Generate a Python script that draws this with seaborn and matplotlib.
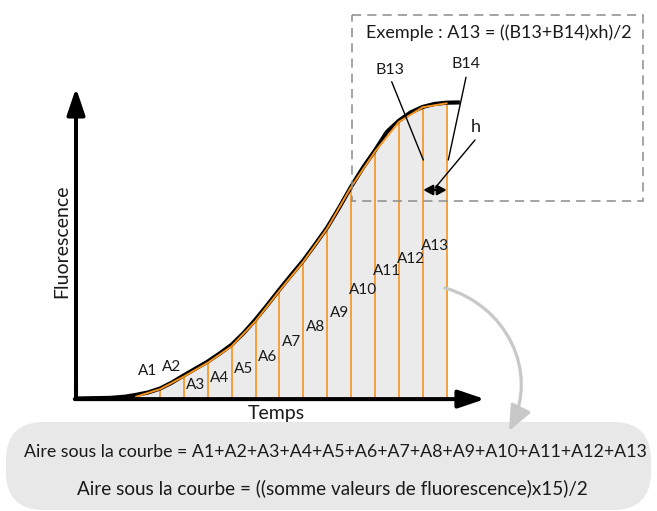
import numpy as np
import pandas as pd
import matplotlib
matplotlib.use("Agg")
import matplotlib.pyplot as plt
import seaborn as sns
from matplotlib.patches import FancyBboxPatch, FancyArrowPatch, Rectangle
from matplotlib.path import Path

# ---------------- data ----------------
# readings (time index, fluorescence) -> B1..B14
time_pts = list(range(14))
fluo_vals = [0.6, 3.1, 7.3, 11.9, 17.4, 25.8, 35.9, 45.6, 56.7, 70.5, 82.3, 92.2, 97.1, 98.4]

# smooth black kinetic curve
curve_t = [-2.51, -1.09, -0.46, 0.0, 0.5, 1.0, 1.5, 2.0, 2.5, 3.0, 3.5, 4.0, 4.5, 5.0,
           5.5, 6.0, 6.5, 7.0, 7.5, 8.0, 8.5, 9.0, 9.5, 10.0, 10.5, 11.0, 11.5, 12.0,
           12.5, 13.0, 13.55]
curve_f = [0.0, 0.2, 0.6, 1.2, 2.0, 3.3, 5.3, 7.7, 10.0, 12.3, 15.0, 17.9, 21.8, 26.3,
           31.2, 36.3, 41.2, 46.0, 51.4, 57.0, 63.6, 70.6, 77.0, 82.7, 88.9, 92.6, 95.4,
           97.2, 98.2, 98.6, 98.7]

# area labels A1..A13 and their label heights
area_labels = [f"A{i}" for i in range(1, 14)]
area_label_f = [9.3, 10.6, 4.5, 6.9, 9.7, 13.9, 18.9, 23.9, 28.6, 36.2, 42.5, 46.4, 50.8]

x_label = "Temps"
y_label = "Fluorescence"
example_text = "Exemple : A13 = ((B13+B14)xh)/2"
formula1 = "Aire sous la courbe = A1+A2+A3+A4+A5+A6+A7+A8+A9+A10+A11+A12+A13"
formula2 = "Aire sous la courbe = ((somme valeurs de fluorescence)x15)/2"

# ---------------- style ----------------
sns.set_theme(style="white")
FONT = ["Lato", "DejaVu Sans"]
plt.rcParams["font.family"] = FONT
TXT = "#1a1a1a"
ORANGE = "#F7941D"
FILL = "#ebebeb"

W, H = 657, 511
fig = plt.figure(figsize=(W / 100, H / 100), dpi=100)
fig.patch.set_facecolor("white")

# main data axes (t: 23.9 px per step, origin at px 136; f: 3 px per unit, baseline px 398.5)
ax = fig.add_axes([0, 0, 1, 1])
ax.set_xlim(-136 / 23.9, (W - 136) / 23.9)
ax.set_ylim((398.5 - H) / 3, 398.5 / 3)
ax.axis("off")

# decoration axes in pixel coords
ov = fig.add_axes([0, 0, 1, 1], zorder=5)
ov.set_xlim(0, W)
ov.set_ylim(H, 0)
ov.axis("off")
ov.patch.set_alpha(0)

df_r = pd.DataFrame({"t": time_pts, "f": fluo_vals})
df_c = pd.DataFrame({"t": curve_t, "f": curve_f})

# fill under trapezoids
ax.fill_between(df_r["t"], 0, df_r["f"], color=FILL, lw=0, zorder=1)

# black curve
sns.lineplot(data=df_c, x="t", y="f", ax=ax, color="black", lw=3.0,
             estimator=None, sort=False, zorder=3, solid_capstyle="butt",
             solid_joinstyle="round")

# orange verticals and polyline
ax.vlines(df_r["t"], 0, df_r["f"], color=ORANGE, lw=1.2, zorder=2)
sns.lineplot(data=df_r, x="t", y="f", ax=ax, color=ORANGE, lw=1.4,
             estimator=None, sort=False, zorder=4)

# axes arrows
t_axis = curve_t[0]
ax.plot([t_axis, t_axis], [-0.2, 5], color="black", lw=2.9, zorder=5, solid_capstyle="projecting")
ax.annotate("", xy=(t_axis, 103.5), xytext=(t_axis, -0.2),
            arrowprops=dict(arrowstyle="-|>,head_length=0.8,head_width=0.27",
                            mutation_scale=20, lw=2.9, color="black",
                            shrinkA=0, shrinkB=0), zorder=5)
ax.annotate("", xy=(14.6, -0.2), xytext=(t_axis - 0.05, -0.2),
            arrowprops=dict(arrowstyle="-|>,head_length=0.8,head_width=0.27",
                            mutation_scale=20, lw=2.9, color="black",
                            shrinkA=0, shrinkB=0), zorder=5)

# area labels
for i, (lab, fy) in enumerate(zip(area_labels, area_label_f)):
    ax.text(time_pts[i] + 0.5, fy, lab, ha="center", va="center",
            fontsize=11, color=TXT, zorder=6)

# axis labels
ov.text(276.7, 414, x_label, ha="center", va="center", fontsize=14, color=TXT)
ov.text(62, 241.5, y_label, ha="center", va="center", rotation=90, fontsize=14, color=TXT)

# dashed example box
ov.add_patch(Rectangle((352.3, 15), 642.7 - 352.3, 201.3 - 15, fill=False,
                       ec="#8c8c8c", lw=1.1, ls=(0, (6, 4))))
ov.text(366, 33, example_text, ha="left", va="center", fontsize=13, color=TXT)

# B13 / B14 / h annotations
ov.text(390, 70, "B13", ha="center", va="center", fontsize=11.5, color=TXT)
ov.text(466, 64, "B14", ha="center", va="center", fontsize=11.5, color=TXT)
ov.text(476, 127, "h", ha="center", va="center", fontsize=13, color=TXT)
ov.plot([391.7, 423.3], [81.7, 160], color="black", lw=1.0)
ov.plot([466, 448.3], [77.3, 160], color="black", lw=1.0)
ov.plot([475, 435], [140, 188], color="black", lw=1.0)
ov.add_patch(FancyArrowPatch((423.3, 190), (446.7, 190),
                             arrowstyle="<|-|>,head_length=0.55,head_width=0.3",
                             mutation_scale=10, lw=1.6, color="black",
                             shrinkA=0, shrinkB=0))

# bottom rounded box
ov.add_patch(FancyBboxPatch((6, 422), 651 - 6, 510 - 422,
                            boxstyle="round,pad=0,rounding_size=38",
                            fc="#e8e8e8", ec="none"))
ov.text(335, 451.7, formula1, ha="center", va="center", fontsize=12.8, color=TXT)
ov.text(332.5, 488.3, formula2, ha="center", va="center", fontsize=13.6, color=TXT)

# gray curved arrow (cubic)
arrow_path = Path([(445, 288), (505, 305), (540, 370), (509, 431)],
                  [Path.MOVETO, Path.CURVE4, Path.CURVE4, Path.CURVE4])
ov.add_patch(FancyArrowPatch(path=arrow_path,
                             arrowstyle="-|>,head_length=1.4,head_width=0.6",
                             mutation_scale=11, lw=2.3, color="#c8c8c8",
                             shrinkA=0, shrinkB=0))

fig.savefig("out.png", dpi=100)
